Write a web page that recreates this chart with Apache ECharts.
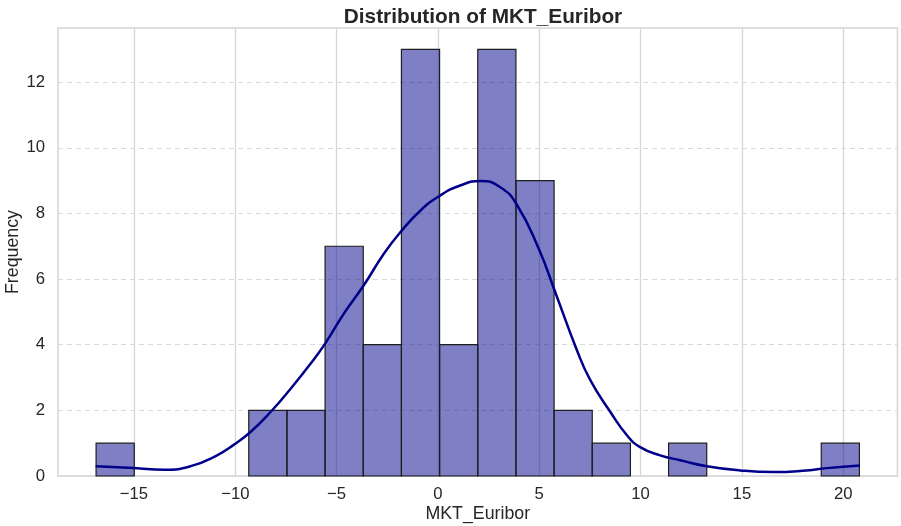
<!DOCTYPE html>
<html>
<head>
<meta charset="utf-8">
<script src="https://cdn.jsdelivr.net/npm/echarts@6/dist/echarts.min.js"></script>
<style>html,body{margin:0;padding:0;background:#fff}#chart{width:901px;height:526px}</style>
</head>
<body>
<div id="chart"></div>
<script>
// histogram: 20 equal bins between binMin and binMax
const binMin = -16.87
const binMax = 20.8
const counts = [1, 0, 0, 0, 2, 2, 7, 4, 13, 4, 13, 9, 2, 1, 0, 1, 0, 0, 0, 1]

// kde curve
const kdeX = [-16.89, -15.0, -13.5, -12.2, -10.9, -10.1, -9.25, -8.26, -7.27, -6.29, -5.55, -4.64, -3.66, -2.67, -1.85, -0.86, 0.12, 1.1, 2.09, 3.08, 3.91, 4.97, 5.79, 6.86, 7.52, 8.51, 9.33, 9.98, 10.97, 11.96, 13.27, 14.92, 16.56, 18.2, 19.19, 20.83]
const kdeY = [0.30, 0.24, 0.19, 0.30, 0.63, 0.94, 1.34, 1.95, 2.66, 3.42, 4.05, 4.95, 5.81, 6.77, 7.43, 8.09, 8.55, 8.85, 8.99, 8.80, 8.25, 6.93, 5.6, 3.83, 2.92, 1.95, 1.24, 0.88, 0.63, 0.48, 0.30, 0.17, 0.12, 0.17, 0.24, 0.32]

const xTicks = [-15, -10, -5, 0, 5, 10, 15, 20]
const yTicks = [0, 2, 4, 6, 8, 10, 12]

const binWidth = (binMax - binMin) / counts.length
const bins = counts.map((c, i) => [binMin + i * binWidth, binMin + (i + 1) * binWidth, c])
const kde = kdeX.map((x, i) => [x, kdeY[i]])

const font = 'Liberation Sans, Arial, sans-serif'
const txt = '#262626'
const minus = (v) => String(v).replace('-', '\u2212')

const chart = echarts.init(document.getElementById('chart'))
chart.setOption({
  animation: false,
  textStyle: { fontFamily: font },
  title: {
    text: 'Distribution of MKT_Euribor',
    left: 478, top: 2, textAlign: 'center',
    textStyle: { fontSize: 20.8, fontWeight: 'bold', color: txt, fontFamily: font },
  },
  grid: {
    left: 58, right: 3.5, top: 28, bottom: 50,
    outerBoundsMode: 'none', containLabel: false,
    show: true, borderColor: '#d3d3d3', borderWidth: 1.5,
  },
  xAxis: {
    type: 'value', min: -18.75, max: 22.68,
    name: 'MKT_Euribor', nameLocation: 'middle', nameGap: 29, nameMoveOverlap: false,
    nameTextStyle: { fontSize: 17.8, color: txt, fontFamily: font },
    axisLine: { show: false },
    axisTick: { show: false, customValues: xTicks },
    axisLabel: { customValues: xTicks, formatter: minus, fontSize: 16.7, color: txt, margin: 10, fontFamily: font },
    splitLine: { show: true, lineStyle: { color: '#d6d6d6', width: 1.3 } },
  },
  yAxis: {
    type: 'value', min: 0, max: 13.65,
    name: 'Frequency', nameLocation: 'middle', nameGap: 36, nameMoveOverlap: false,
    nameTextStyle: { fontSize: 17.8, color: txt, fontFamily: font },
    axisLine: { show: false },
    axisTick: { show: false, customValues: yTicks },
    axisLabel: { customValues: yTicks, fontSize: 16.7, color: txt, margin: 13, fontFamily: font },
    splitLine: { show: true, lineStyle: { color: '#d9d9d9', width: 1, type: [5, 4] } },
  },
  series: [
    {
      type: 'custom',
      data: bins,
      encode: { x: [0, 1], y: 2 },
      renderItem(params, api) {
        const c = api.value(2)
        if (!c) return
        const p0 = api.coord([api.value(0), c])
        const p1 = api.coord([api.value(1), 0])
        return {
          type: 'rect',
          shape: { x: p0[0], y: p0[1], width: p1[0] - p0[0], height: p1[1] - p0[1] },
          style: { fill: 'rgba(0,0,139,0.5)', stroke: '#1e1e1e', lineWidth: 1.2 },
        }
      },
      z: 2,
    },
    {
      type: 'line',
      data: kde,
      smooth: 0.5,
      showSymbol: false,
      lineStyle: { color: '#00008b', width: 2.5 },
      z: 3,
    },
  ],
})
</script>
</body>
</html>
